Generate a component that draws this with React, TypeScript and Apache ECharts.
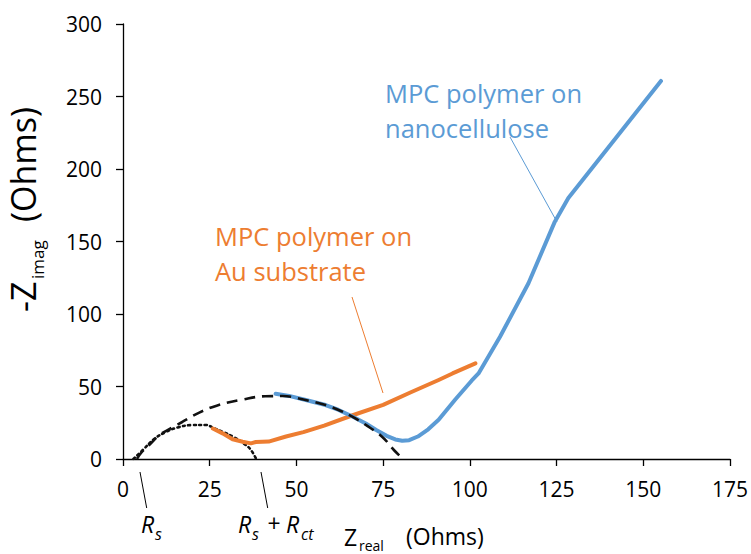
import React, { useEffect, useRef } from "react";
import * as echarts from "echarts";

// x: Z_real (Ohms), y: -Z_imag (Ohms)
const nanocellulose: [number, number][] = [
  [44, 45], [47.9, 43.5], [53, 40.5], [58.4, 37.2], [62, 34], [66, 29.5], [70, 24.5],
  [73, 20], [76, 16], [78.5, 13.5], [80.5, 12.6], [82.5, 13], [85, 15.5], [88, 20.5],
  [91, 27], [95.8, 41], [100.5, 54], [102.5, 59], [108.7, 84.3], [116.9, 121.2],
  [124.5, 163.7], [128.4, 180], [155.1, 260.7],
];
const auSubstrate: [number, number][] = [
  [25.9, 21], [28.7, 17.7], [31.6, 13.6], [34.5, 11.9], [36.9, 10.8], [38.3, 11.7],
  [42, 12], [47, 15.5], [52, 18.5], [58, 23], [66, 30], [75, 37.3], [83, 46],
  [91, 54.5], [95, 59], [101.6, 66],
];
const rctArc: [number, number][] = [
  [4, 0], [5.5, 5], [7.7, 10], [10.5, 16.5], [14, 21.5], [17.2, 25.7], [22, 32],
  [27, 36.8], [34.5, 41], [41, 43.3], [46, 43.4], [52, 41], [58.4, 37.2], [62, 34],
  [66.1, 29.2], [70, 23.5], [74.7, 15.4], [78.1, 6.2], [80.5, 0.5],
];
const rsArc: [number, number][] = [
  [3, 0], [5.7, 6.2], [9.1, 14], [12.5, 18.8], [15.8, 21.8], [19.7, 23.4], [24, 23.5],
  [26, 21.5], [29, 18.5], [32, 15], [35.4, 9.7], [36.9, 6.2], [38.3, 0.5],
];
const xMin = 0, xMax = 175, xStep = 25;
const yMin = 0, yMax = 300, yStep = 50;

const BLUE = "#5B9BD5";
const ORANGE = "#ED7D31";
const FF = "'Open Sans', sans-serif";

function txt(text: string, x: number, y: number, size: number, fill: string, italic = false, extra: any = {}) {
  return {
    type: "text",
    x, y,
    silent: true,
    style: {
      text,
      fill,
      font: `${italic ? "italic " : ""}${size}px ${FF}`,
      align: "left",
      verticalAlign: "middle",
      textAlign: "left",
      textVerticalAlign: "middle",
    },
    ...extra,
  };
}
function seg(x1: number, y1: number, x2: number, y2: number, stroke: string) {
  return { type: "line", silent: true, shape: { x1, y1, x2, y2 }, style: { stroke, lineWidth: 1 } };
}

export default function App() {
  const ref = useRef<HTMLDivElement>(null);
  useEffect(() => {
    const chart = echarts.init(ref.current!, null, { renderer: "svg" });
    chart.setOption({
      animation: false,
      backgroundColor: "#ffffff",
      grid: { left: 123, right: 18.5, top: 24, bottom: 95, containLabel: false },
      xAxis: {
        type: "value", min: xMin, max: xMax, interval: xStep,
        axisLine: { show: true, onZero: false, lineStyle: { color: "#000", width: 1.3 } },
        axisTick: { show: true, length: 7, lineStyle: { color: "#000", width: 1.3 } },
        axisLabel: { margin: 19, fontSize: 21, fontFamily: FF, color: "#000" },
        splitLine: { show: false },
      },
      yAxis: {
        type: "value", min: yMin, max: yMax, interval: yStep,
        axisLine: { show: true, onZero: false, lineStyle: { color: "#000", width: 1.3 } },
        axisTick: { show: true, length: 7, lineStyle: { color: "#000", width: 1.3 } },
        axisLabel: { margin: 21, fontSize: 21, fontFamily: FF, color: "#000" },
        splitLine: { show: false },
      },
      series: [
        {
          type: "line", data: rsArc, showSymbol: false, smooth: 0.4, silent: true,
          lineStyle: { color: "#111", width: 2.6, type: [2, 3.5], cap: "round" }, z: 2,
        },
        {
          type: "line", data: auSubstrate, showSymbol: false, silent: true,
          lineStyle: { color: ORANGE, width: 4, cap: "round", join: "round" }, z: 3,
        },
        {
          type: "line", data: nanocellulose, showSymbol: false, silent: true,
          lineStyle: { color: BLUE, width: 4, cap: "round", join: "round" }, z: 4,
        },
        {
          type: "line", data: rctArc, showSymbol: false, smooth: 0.4, silent: true,
          lineStyle: { color: "#111", width: 2.6, type: [11, 7] }, z: 5,
        },
      ],
      graphic: [
        // series labels
        txt("MPC polymer on", 385, 93, 25.5, BLUE),
        txt("nanocellulose", 385, 128, 25.5, BLUE),
        seg(510, 137, 557, 222, BLUE),
        txt("MPC polymer on", 215, 236, 25.5, ORANGE),
        txt("Au substrate", 215, 271, 25.5, ORANGE),
        seg(352, 297, 383, 393, ORANGE),
        // Rs annotations
        seg(140, 472, 146.7, 508, "#000"),
        seg(261, 472, 267.7, 508, "#000"),
        txt("R", 141, 524, 23, "#000", true),
        txt("s", 155, 534, 16, "#000", true),
        txt("R", 238, 524, 23, "#000", true),
        txt("s", 252, 534, 16, "#000", true),
        txt("+", 267, 523, 23, "#000", true),
        txt("R", 286, 524, 23, "#000", true),
        txt("ct", 301, 534, 16, "#000", true),
        // x axis title
        txt("Z", 344, 537, 23, "#000"),
        txt("real", 359, 545, 14, "#000"),
        txt("(Ohms)", 406, 536, 23, "#000"),
        // y axis title (rotated)
        {
          type: "group",
          x: 23,
          y: 312,
          rotation: Math.PI / 2,
          silent: true,
          children: [
            txt("-Z", 0, 0, 34, "#000"),
            txt("imag", 33, 14, 17, "#000"),
            txt("(Ohms)", 90, 0, 34, "#000"),
          ],
        },
      ],
    });
    return () => chart.dispose();
  }, []);
  return (
    <div
      ref={ref}
      style={{ position: "absolute", left: 0, top: 0, width: 751, height: 554, background: "#fff" }}
    />
  );
}
